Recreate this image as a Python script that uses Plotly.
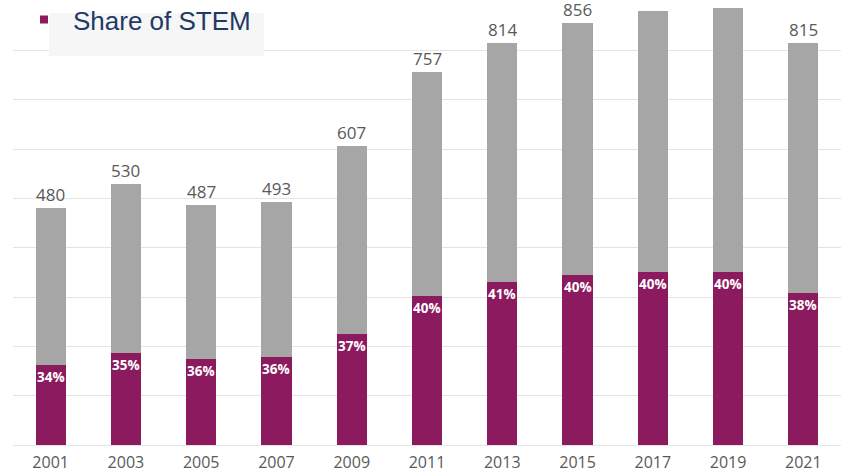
import plotly.graph_objects as go

years = ["2001", "2003", "2005", "2007", "2009", "2011", "2013", "2015", "2017", "2019", "2021"]
totals = [480, 530, 487, 493, 607, 757, 814, 856, 880, 885, 815]
stem = [163, 186, 175, 178, 225, 303, 330, 345, 351, 350, 308]
share_labels = ["34%", "35%", "36%", "36%", "37%", "40%", "41%", "40%", "40%", "40%", "38%"]
total_labels = ["480", "530", "487", "493", "607", "757", "814", "856", "", "", "815"]

other = [t - s for t, s in zip(totals, stem)]

PURPLE = "#8b1a5e"
GRAY = "#a6a6a6"
TXT = "#595959"

fig = go.Figure()
fig.add_trace(go.Bar(x=years, y=stem, marker=dict(color=PURPLE, line=dict(width=0)),
                     showlegend=False, hoverinfo="skip"))
fig.add_trace(go.Bar(x=years, y=other, marker=dict(color=GRAY, line=dict(width=0)),
                     showlegend=False, hoverinfo="skip"))
fig.add_trace(go.Scatter(x=[None], y=[None], mode="markers", name="Share of STEM",
                         marker=dict(symbol="square", size=8, color=PURPLE)))

# annotations on a category axis are positioned by category index
for i, (s, lab) in enumerate(zip(stem, share_labels)):
    fig.add_annotation(x=i, y=s, text=lab, showarrow=False, xanchor="center", yanchor="top",
                       yshift=-1, font=dict(family="Open Sans", size=13.5, color="white", weight="bold"))
for i, (t, lab) in enumerate(zip(totals, total_labels)):
    if lab:
        fig.add_annotation(x=i, y=t, text=lab, showarrow=False, xanchor="center", yanchor="bottom",
                           yshift=1, borderpad=0, font=dict(family="Open Sans", size=17, color=TXT))

fig.add_shape(type="rect", xref="paper", yref="paper", x0=0.0435, x1=0.303, y0=0.876, y1=0.973,
              fillcolor="#f6f6f7", line=dict(width=0), layer="above")

fig.update_layout(
    width=854, height=472, autosize=False,
    margin=dict(l=13, r=13, t=1, b=27, autoexpand=False),
    paper_bgcolor="white", plot_bgcolor="white",
    barmode="stack", bargap=0.6,
    showlegend=True,
    legend=dict(x=0.0024, y=1.011, xanchor="left", yanchor="top", bgcolor="rgba(0,0,0,0)",
                itemwidth=48,
                font=dict(family="Liberation Sans, Arial", size=26, color="#1f3a66")),
    xaxis=dict(type="category", categoryorder="array", categoryarray=years,
               range=[-0.5, len(years) - 0.5], autorange=False,
               showgrid=False, showline=False, ticks="", automargin=False,
               ticklabelstandoff=6,
               tickfont=dict(family="Open Sans", size=16, color=TXT)),
    yaxis=dict(range=[0, 900], autorange=False, dtick=100, showticklabels=False,
               gridcolor="#e4e4e4", gridwidth=1,
               zeroline=True, zerolinecolor="#e4e4e4", zerolinewidth=1, automargin=False),
)

fig.write_html("out.html", config={"displayModeBar": False},
               post_script="document.body.style.margin='0';document.body.style.overflow='hidden';")
